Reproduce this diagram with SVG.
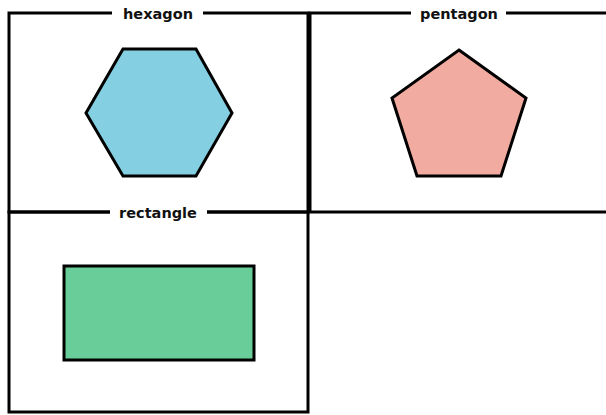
<svg xmlns="http://www.w3.org/2000/svg" width="606" height="415" viewBox="0 0 606 415">
<style>
.frame{fill:none;stroke:#000;stroke-width:3}
.shape{stroke:#000;stroke-width:3;stroke-linejoin:miter}
.label{font-family:"DejaVu Sans",Verdana,sans-serif;font-weight:bold;font-size:14.5px;fill:#111;text-anchor:middle}
.gap{fill:#fff}
</style>
<rect width="606" height="415" fill="#fff"/>
<g id="panel-hexagon">
<rect class="frame" x="9" y="13" width="299" height="199"/>
<rect class="gap" x="112" y="5" width="91" height="14"/>
<text class="label" x="158" y="19">hexagon</text>
<polygon class="shape" fill="#84d0e2" points="123,49 196,49 232,113 196,176 123,176 86,113"/>
</g>
<g id="panel-pentagon">
<path class="frame" d="M308,13 H606 M310,13 V212 M308,212 H606"/>
<rect class="gap" x="411" y="5" width="95" height="14"/>
<text class="label" x="459" y="19">pentagon</text>
<polygon class="shape" fill="#f2aba0" points="459,50 526,98 501,176 417,176 392,98"/>
</g>
<g id="panel-rectangle">
<rect class="frame" x="9" y="212" width="299" height="200"/>
<rect class="gap" x="110" y="204" width="97" height="14"/>
<text class="label" x="158" y="218">rectangle</text>
<rect class="shape" fill="#68cd98" x="64" y="266" width="190" height="94"/>
</g>
</svg>
